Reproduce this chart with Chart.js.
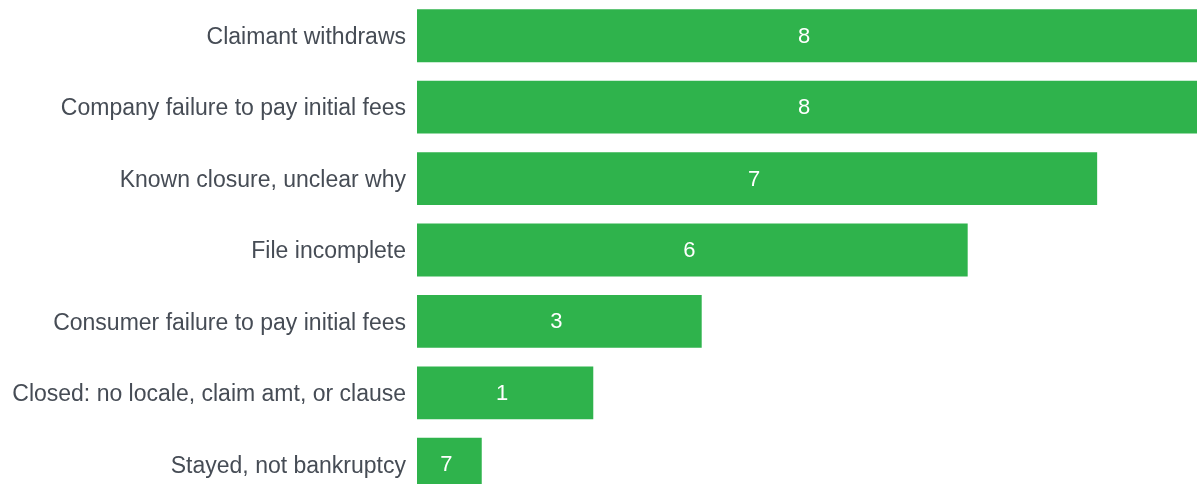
<!DOCTYPE html>
<html>
<head>
<meta charset="utf-8">
<script src="https://cdn.jsdelivr.net/npm/chart.js@4"></script>
<style>
    html, body { margin: 0; padding: 0; background: #fff; overflow: hidden; }
    #wrap { position: relative; width: 1197px; height: 500px; }
</style>
</head>
<body>
<div id="wrap"><canvas id="closureChart"></canvas></div>
<script>
// categories, bar lengths (share, %) and the counts printed inside each bar
const categories = [
    'Claimant withdraws',
    'Company failure to pay initial fees',
    'Known closure, unclear why',
    'File incomplete',
    'Consumer failure to pay initial fees',
    'Closed: no locale, claim amt, or clause',
    'Stayed, not bankruptcy'
];
const barValues = [100, 100, 87.2, 70.6, 36.5, 22.6, 8.3];
const countLabels = [8, 8, 7, 6, 3, 1, 7];

const barColor = '#2fb34c';
const textColor = '#464c55';
const fontFamily = '"Liberation Sans", Arial, sans-serif';

// small plugin to write the count in the middle of each bar
const centerLabels = {
    id: 'centerLabels',
    afterDatasetsDraw(chart) {
        const ctx = chart.ctx;
        const meta = chart.getDatasetMeta(0);
        ctx.save();
        ctx.fillStyle = '#ffffff';
        ctx.font = '22px ' + fontFamily;
        ctx.textAlign = 'center';
        ctx.textBaseline = 'middle';
        meta.data.forEach((bar, i) => {
            const x = (bar.x + bar.base) / 2 - 3;
            ctx.fillText(String(countLabels[i]), x, bar.y + 1);
        });
        ctx.restore();
    }
};

new Chart(document.getElementById('closureChart').getContext('2d'), {
    type: 'bar',
    data: {
        labels: categories,
        datasets: [{
            data: barValues,
            backgroundColor: barColor,
            borderWidth: 0,
            barPercentage: 0.74,
            categoryPercentage: 1
        }]
    },
    options: {
        indexAxis: 'y',
        responsive: true,
        maintainAspectRatio: false,
        animation: false,
        layout: { padding: 0 },
        plugins: {
            legend: { display: false },
            tooltip: { enabled: false }
        },
        scales: {
            x: {
                display: false,
                min: 0,
                max: 100
            },
            y: {
                grid: { display: false, drawTicks: false },
                border: { display: false },
                ticks: {
                    color: textColor,
                    padding: 11,
                    labelOffset: 2,
                    font: { family: fontFamily, size: 23 }
                },
                afterFit(scale) {
                    scale.width = 417;
                    scale.paddingTop = 0;
                    scale.paddingBottom = 0;
                }
            }
        }
    },
    plugins: [centerLabels]
});
</script>
</body>
</html>
